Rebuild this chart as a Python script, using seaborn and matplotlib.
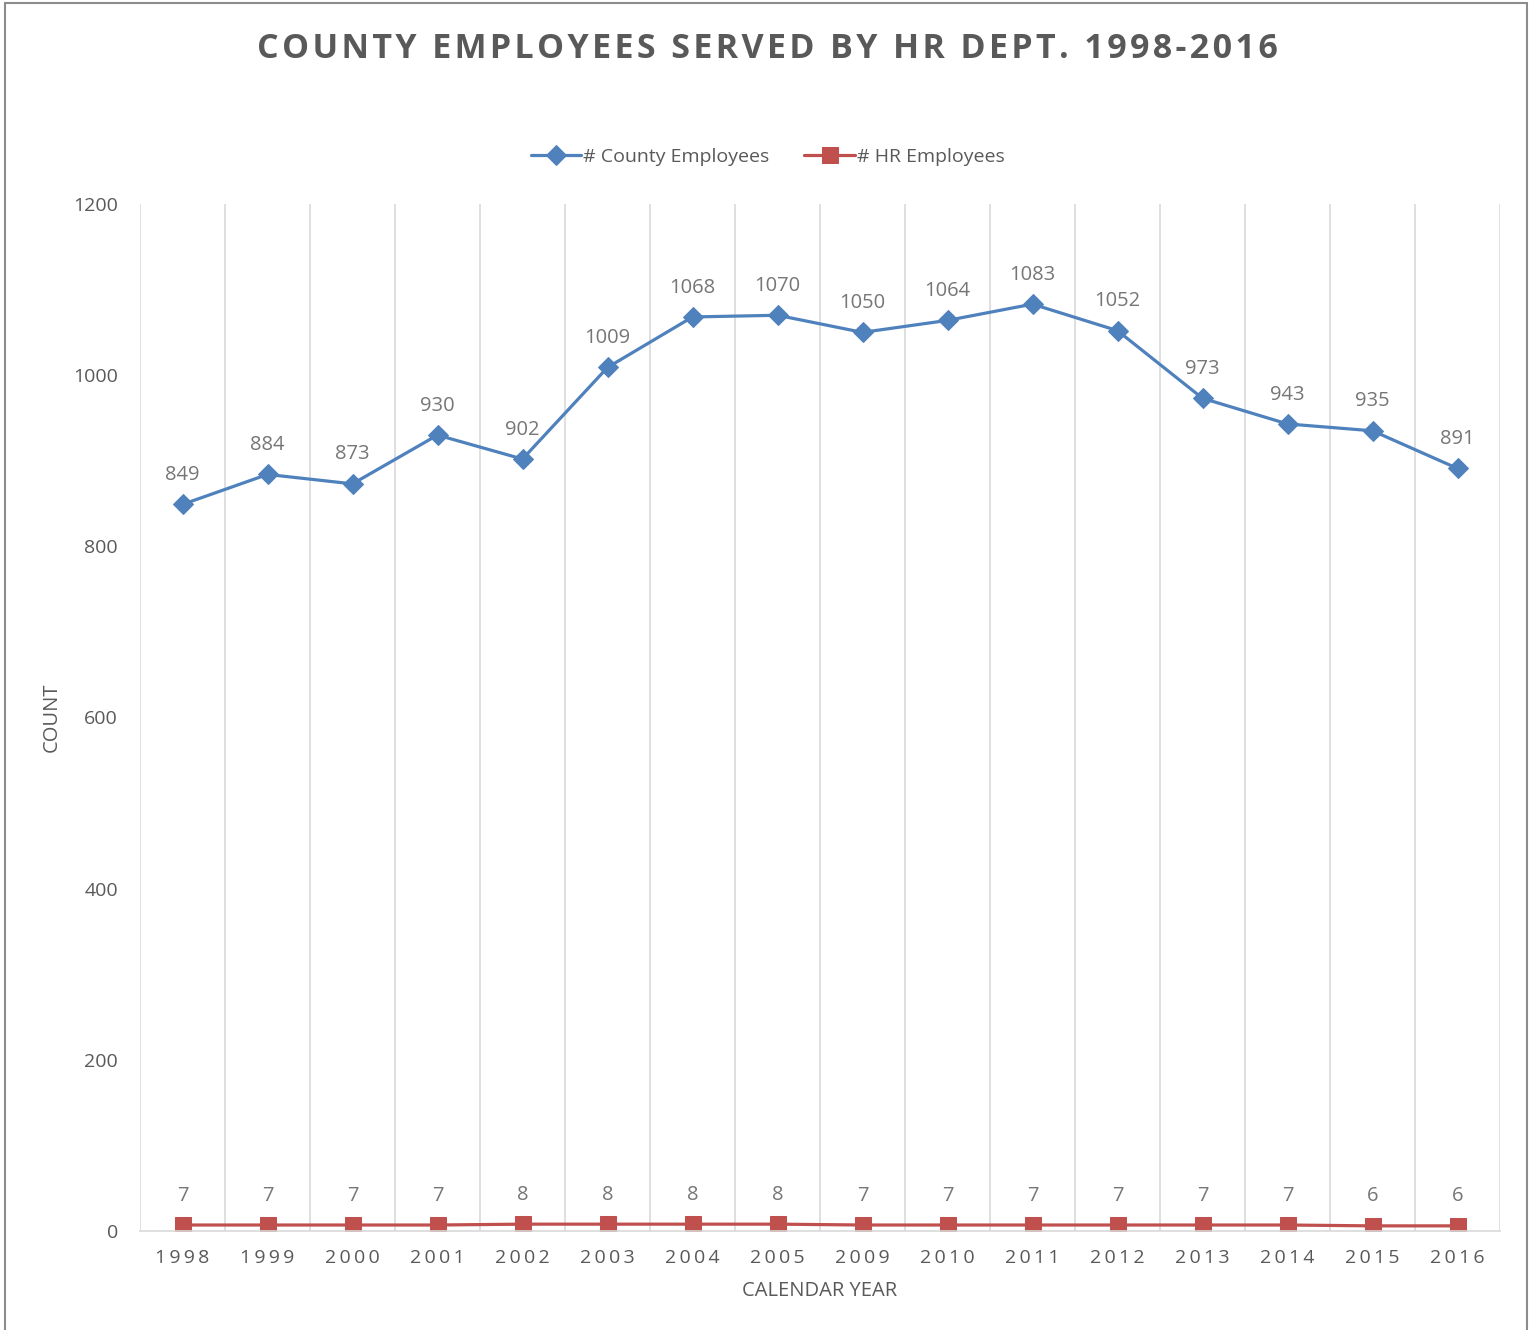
import pandas as pd
import numpy as np
import matplotlib.pyplot as plt
import seaborn as sns
from matplotlib.patches import Rectangle

years = ['1998', '1999', '2000', '2001', '2002', '2003', '2004', '2005',
         '2009', '2010', '2011', '2012', '2013', '2014', '2015', '2016']
county_emp = [849, 884, 873, 930, 902, 1009, 1068, 1070,
              1050, 1064, 1083, 1052, 973, 943, 935, 891]
hr_emp = [7, 7, 7, 7, 8, 8, 8, 8, 7, 7, 7, 7, 7, 7, 6, 6]

df = pd.DataFrame({'Year': years, '# County Employees': county_emp, '# HR Employees': hr_emp})

sns.set_theme(style="white")
plt.rcParams['font.family'] = ['Open Sans', 'DejaVu Sans']

blue = "#4F81BD"
red = "#C0504D"
txt = "#595959"

fig = plt.figure(figsize=(15.35, 13.3), dpi=100)
ax = fig.add_axes([140 / 1535, 99 / 1330, 1360 / 1535, 1027 / 1330])

sns.lineplot(data=df, x='Year', y='# County Employees', sort=False, ax=ax,
             color=blue, linewidth=2.3, marker='D', markersize=10,
             markeredgecolor=blue, label='# County Employees')
sns.lineplot(data=df, x='Year', y='# HR Employees', sort=False, ax=ax,
             color=red, linewidth=2.3, marker='s', markersize=12,
             markeredgecolor=red, label='# HR Employees')

# data labels
for i, v in enumerate(county_emp):
    ax.annotate(str(v), (i, v), xytext=(0, 14), textcoords='offset points',
                ha='center', va='bottom', fontsize=14.5, color='#767676')
for i, v in enumerate(hr_emp):
    ax.annotate(str(v), (i, v), xytext=(0, 14), textcoords='offset points',
                ha='center', va='bottom', fontsize=14.5, color='#767676')

ax.set_xlim(-0.5, len(years) - 0.5)
ax.set_ylim(0, 1200)
ax.set_yticks(range(0, 1201, 200))
ax.set_xticks(range(len(years)))
ax.set_xticklabels(['\u2009'.join(y) for y in years])
ax.tick_params(axis='both', length=0, labelsize=14, labelcolor=txt)
ax.tick_params(axis='x', pad=13)
ax.tick_params(axis='y', pad=16)

# vertical gridlines between categories
for xb in np.arange(-0.5, len(years), 1.0):
    ax.axvline(xb, color='#d9d9d9', linewidth=1.2, zorder=0)

for s in ['top', 'right', 'left']:
    ax.spines[s].set_visible(False)
ax.spines['bottom'].set_color('#d9d9d9')
ax.spines['bottom'].set_linewidth(1.2)

ax.set_xlabel('CALENDAR YEAR', fontsize=14.5, color=txt, labelpad=10)
ax.set_ylabel('COUNT', fontsize=14.5, color=txt, labelpad=8)

ax.get_legend().remove()
handles, labels = ax.get_legend_handles_labels()
fig.legend(handles, labels, loc='center', bbox_to_anchor=(0.5, 1 - 157 / 1330), ncol=2,
           frameon=False, fontsize=14, labelcolor=txt, handlelength=2.6,
           columnspacing=1.8, handletextpad=0.1)

fig.text(0.5, 1 - 49 / 1330, '\u200a'.join('COUNTY EMPLOYEES SERVED BY HR DEPT. 1998-2016'),
         ha='center', va='center', fontsize=24.5, fontweight='bold', color=txt)

fig.patches.append(Rectangle((5 / 1535, -0.01), 1522 / 1535, 1 - 3 / 1330 + 0.01,
                             transform=fig.transFigure, fill=False,
                             edgecolor='#8c8c8c', linewidth=1.5))

fig.savefig('out.png', dpi=100)
